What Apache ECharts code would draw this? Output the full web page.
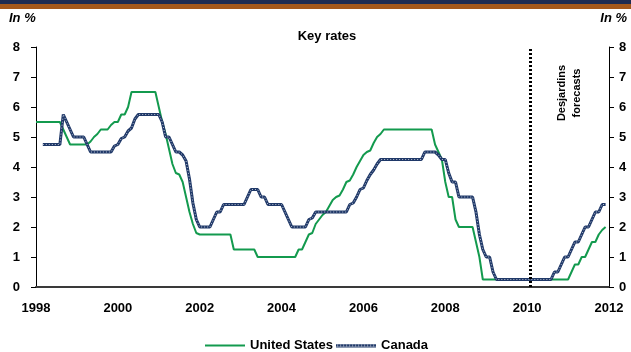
<!DOCTYPE html>
<html>
<head>
<meta charset="utf-8">
<script src="https://cdn.jsdelivr.net/npm/echarts@6/dist/echarts.min.js"></script>
<style>
  html, body { margin: 0; padding: 0; background: #ffffff; }
  #chart { width: 631px; height: 352px; }
</style>
</head>
<body>
<div id="chart"></div>
<script>
// Monthly policy rates, January 1998 to December 2011 (in %)
const startYear = 1998;
const forecastStart = 2010 + 1 / 12;
const yearTicks = [1998, 2000, 2002, 2004, 2006, 2008, 2010, 2012];

const unitedStates = [
  5.5, 5.5, 5.5, 5.5, 5.5, 5.5, 5.5, 5.5, 5.25, 5.0, 4.75, 4.75,          // 1998
  4.75, 4.75, 4.75, 4.75, 4.85, 5.0, 5.1, 5.25, 5.25, 5.25, 5.4, 5.5,    // 1999
  5.5, 5.75, 5.75, 6.0, 6.5, 6.5, 6.5, 6.5, 6.5, 6.5, 6.5, 6.5,          // 2000
  6.0, 5.5, 5.1, 4.6, 4.1, 3.8, 3.75, 3.5, 3.0, 2.5, 2.1, 1.8,           // 2001
  1.75, 1.75, 1.75, 1.75, 1.75, 1.75, 1.75, 1.75, 1.75, 1.75, 1.25, 1.25, // 2002
  1.25, 1.25, 1.25, 1.25, 1.25, 1.0, 1.0, 1.0, 1.0, 1.0, 1.0, 1.0,       // 2003
  1.0, 1.0, 1.0, 1.0, 1.0, 1.25, 1.25, 1.5, 1.75, 1.8, 2.1, 2.25,        // 2004
  2.4, 2.5, 2.7, 2.9, 3.0, 3.05, 3.25, 3.5, 3.55, 3.75, 4.0, 4.2,        // 2005
  4.4, 4.5, 4.55, 4.8, 5.0, 5.1, 5.25, 5.25, 5.25, 5.25, 5.25, 5.25,     // 2006
  5.25, 5.25, 5.25, 5.25, 5.25, 5.25, 5.25, 5.25, 5.25, 4.75, 4.5, 4.25, // 2007
  3.5, 3.0, 3.0, 2.25, 2.0, 2.0, 2.0, 2.0, 2.0, 1.5, 1.0, 0.25,          // 2008
  0.25, 0.25, 0.25, 0.25, 0.25, 0.25, 0.25, 0.25, 0.25, 0.25, 0.25, 0.25, // 2009
  0.25, 0.25, 0.25, 0.25, 0.25, 0.25, 0.25, 0.25, 0.25, 0.25, 0.25, 0.25, // 2010
  0.25, 0.5, 0.75, 0.75, 1.0, 1.0, 1.25, 1.5, 1.5, 1.75, 1.9, 2.0        // 2011
];

const canada = [
  null, null, 4.75, 4.75, 4.75, 4.75, 4.75, 4.75, 5.75, 5.5, 5.25, 5.0,  // 1998
  5.0, 5.0, 5.0, 4.75, 4.5, 4.5, 4.5, 4.5, 4.5, 4.5, 4.5, 4.7,           // 1999
  4.75, 4.95, 5.0, 5.2, 5.3, 5.6, 5.75, 5.75, 5.75, 5.75, 5.75, 5.75,    // 2000
  5.75, 5.5, 5.0, 5.0, 4.75, 4.5, 4.5, 4.4, 4.2, 3.6, 2.8, 2.25,         // 2001
  2.0, 2.0, 2.0, 2.0, 2.25, 2.5, 2.5, 2.75, 2.75, 2.75, 2.75, 2.75,      // 2002
  2.75, 2.75, 3.0, 3.25, 3.25, 3.25, 3.0, 3.0, 2.75, 2.75, 2.75, 2.75,   // 2003
  2.75, 2.5, 2.25, 2.0, 2.0, 2.0, 2.0, 2.0, 2.25, 2.3, 2.5, 2.5,         // 2004
  2.5, 2.5, 2.5, 2.5, 2.5, 2.5, 2.5, 2.5, 2.75, 2.8, 3.0, 3.25,          // 2005
  3.3, 3.55, 3.75, 3.9, 4.1, 4.25, 4.25, 4.25, 4.25, 4.25, 4.25, 4.25,   // 2006
  4.25, 4.25, 4.25, 4.25, 4.25, 4.25, 4.5, 4.5, 4.5, 4.5, 4.4, 4.25,     // 2007
  4.25, 3.8, 3.5, 3.5, 3.0, 3.0, 3.0, 3.0, 3.0, 2.5, 1.75, 1.25,         // 2008
  1.0, 1.0, 0.5, 0.25, 0.25, 0.25, 0.25, 0.25, 0.25, 0.25, 0.25, 0.25,   // 2009
  0.25, 0.25, 0.25, 0.25, 0.25, 0.25, 0.25, 0.25, 0.5, 0.5, 0.75, 1.0,   // 2010
  1.0, 1.25, 1.5, 1.5, 1.75, 2.0, 2.0, 2.25, 2.5, 2.5, 2.75, 2.75        // 2011
];

const usColor = '#139a4e';
const caColor = '#1f3868';
const fontFamily = '"Liberation Sans", Arial, sans-serif';

// month index -> fractional year on the value axis
const toPairs = values => values.map((v, i) => [startYear + i / 12, v]);

// legend swatches: plain green stroke, and navy band with white dots
function swatch(draw) {
  const c = document.createElement('canvas');
  c.width = 40; c.height = 4;
  draw(c.getContext('2d'));
  return 'image://' + c.toDataURL();
}
const usSwatch = swatch(g => {
  g.fillStyle = usColor;
  g.fillRect(0, 1, 40, 2);
});
const caSwatch = swatch(g => {
  g.fillStyle = caColor;
  g.fillRect(0, 0.5, 40, 3);
  g.fillStyle = '#dfe4ee';
  for (let x = 1; x < 40; x += 3) g.fillRect(x, 1.5, 1, 1);
});

const chart = echarts.init(document.getElementById('chart'), null, { renderer: 'canvas' });

const yAxisBase = {
  type: 'value',
  min: 0,
  max: 8,
  interval: 1,
  splitLine: { show: false },
  axisLine: { show: true, lineStyle: { color: '#000', width: 1 } },
  axisTick: { show: true, length: 5, lineStyle: { color: '#000' } },
  axisLabel: { color: '#000', fontWeight: 'bold', fontSize: 13, fontFamily }
};

chart.setOption({
  animation: false,
  backgroundColor: '#ffffff',
  grid: { left: 36, right: 22, top: 47, bottom: 65, containLabel: false },
  title: {
    text: 'Key rates',
    left: 322,
    textAlign: 'center',
    top: 25,
    textStyle: { fontSize: 13, fontWeight: 'bold', color: '#000', fontFamily }
  },
  legend: {
    left: 200,
    top: 334,
    itemWidth: 40,
    itemHeight: 4,
    itemGap: 3,
    textStyle: { fontSize: 13, fontWeight: 'bold', color: '#000', fontFamily },
    data: [
      { name: 'United States', icon: usSwatch },
      { name: 'Canada', icon: caSwatch }
    ]
  },
  xAxis: {
    type: 'value',
    min: 1998,
    max: 2012,
    interval: 2,
    splitLine: { show: false },
    axisLine: { show: true, lineStyle: { color: '#3a3a3a', width: 2 } },
    axisTick: { show: false },
    axisLabel: {
      margin: 15,
      color: '#000',
      fontWeight: 'bold',
      fontSize: 13,
      fontFamily,
      formatter: v => (yearTicks.includes(v) ? String(v) : '')
    }
  },
  yAxis: [
    Object.assign({}, yAxisBase, { position: 'left', axisLabel: Object.assign({}, yAxisBase.axisLabel, { margin: 16 }) }),
    Object.assign({}, yAxisBase, { position: 'right', axisLabel: Object.assign({}, yAxisBase.axisLabel, { margin: 10 }) })
  ],
  graphic: [
    { type: 'rect', left: 0, top: 0, shape: { width: 631, height: 4 }, style: { fill: '#1c2b52' } },
    { type: 'rect', left: 0, top: 4, shape: { width: 631, height: 5 }, style: { fill: '#a3581c' } },
    {
      type: 'text', left: 9, top: 12,
      style: { text: 'In %', font: 'italic bold 13px "Liberation Sans", Arial, sans-serif', fill: '#000' }
    },
    {
      type: 'text', right: 4, top: 12,
      style: { text: 'In %', font: 'italic bold 13px "Liberation Sans", Arial, sans-serif', fill: '#000' }
    },
    {
      type: 'text',
      x: 569, y: 93,
      rotation: Math.PI / 2,
      style: {
        text: 'Desjardins\nforecasts',
        font: 'bold 11px "Liberation Sans", Arial, sans-serif',
        fill: '#000',
        align: 'center',
        verticalAlign: 'middle',
        lineHeight: 15
      }
    }
  ],
  series: [
    {
      name: 'United States',
      type: 'line',
      yAxisIndex: 0,
      data: toPairs(unitedStates),
      showSymbol: false,
      lineStyle: { color: usColor, width: 2 },
      itemStyle: { color: usColor },
      z: 3,
      markLine: {
        silent: true,
        symbol: ['none', 'none'],
        label: { show: false },
        lineStyle: { color: '#000', width: 3, type: [2, 2] },
        data: [{ xAxis: forecastStart }]
      }
    },
    {
      name: 'Canada',
      type: 'line',
      yAxisIndex: 0,
      data: toPairs(canada),
      showSymbol: false,
      lineStyle: { color: caColor, width: 3 },
      itemStyle: { color: caColor },
      z: 4
    },
    {
      name: 'Canada',
      type: 'line',
      yAxisIndex: 0,
      data: toPairs(canada),
      showSymbol: false,
      lineStyle: { color: '#e6eaf2', width: 0.8, type: [1, 2] },
      itemStyle: { color: caColor },
      z: 5
    }
  ]
});
</script>
</body>
</html>
